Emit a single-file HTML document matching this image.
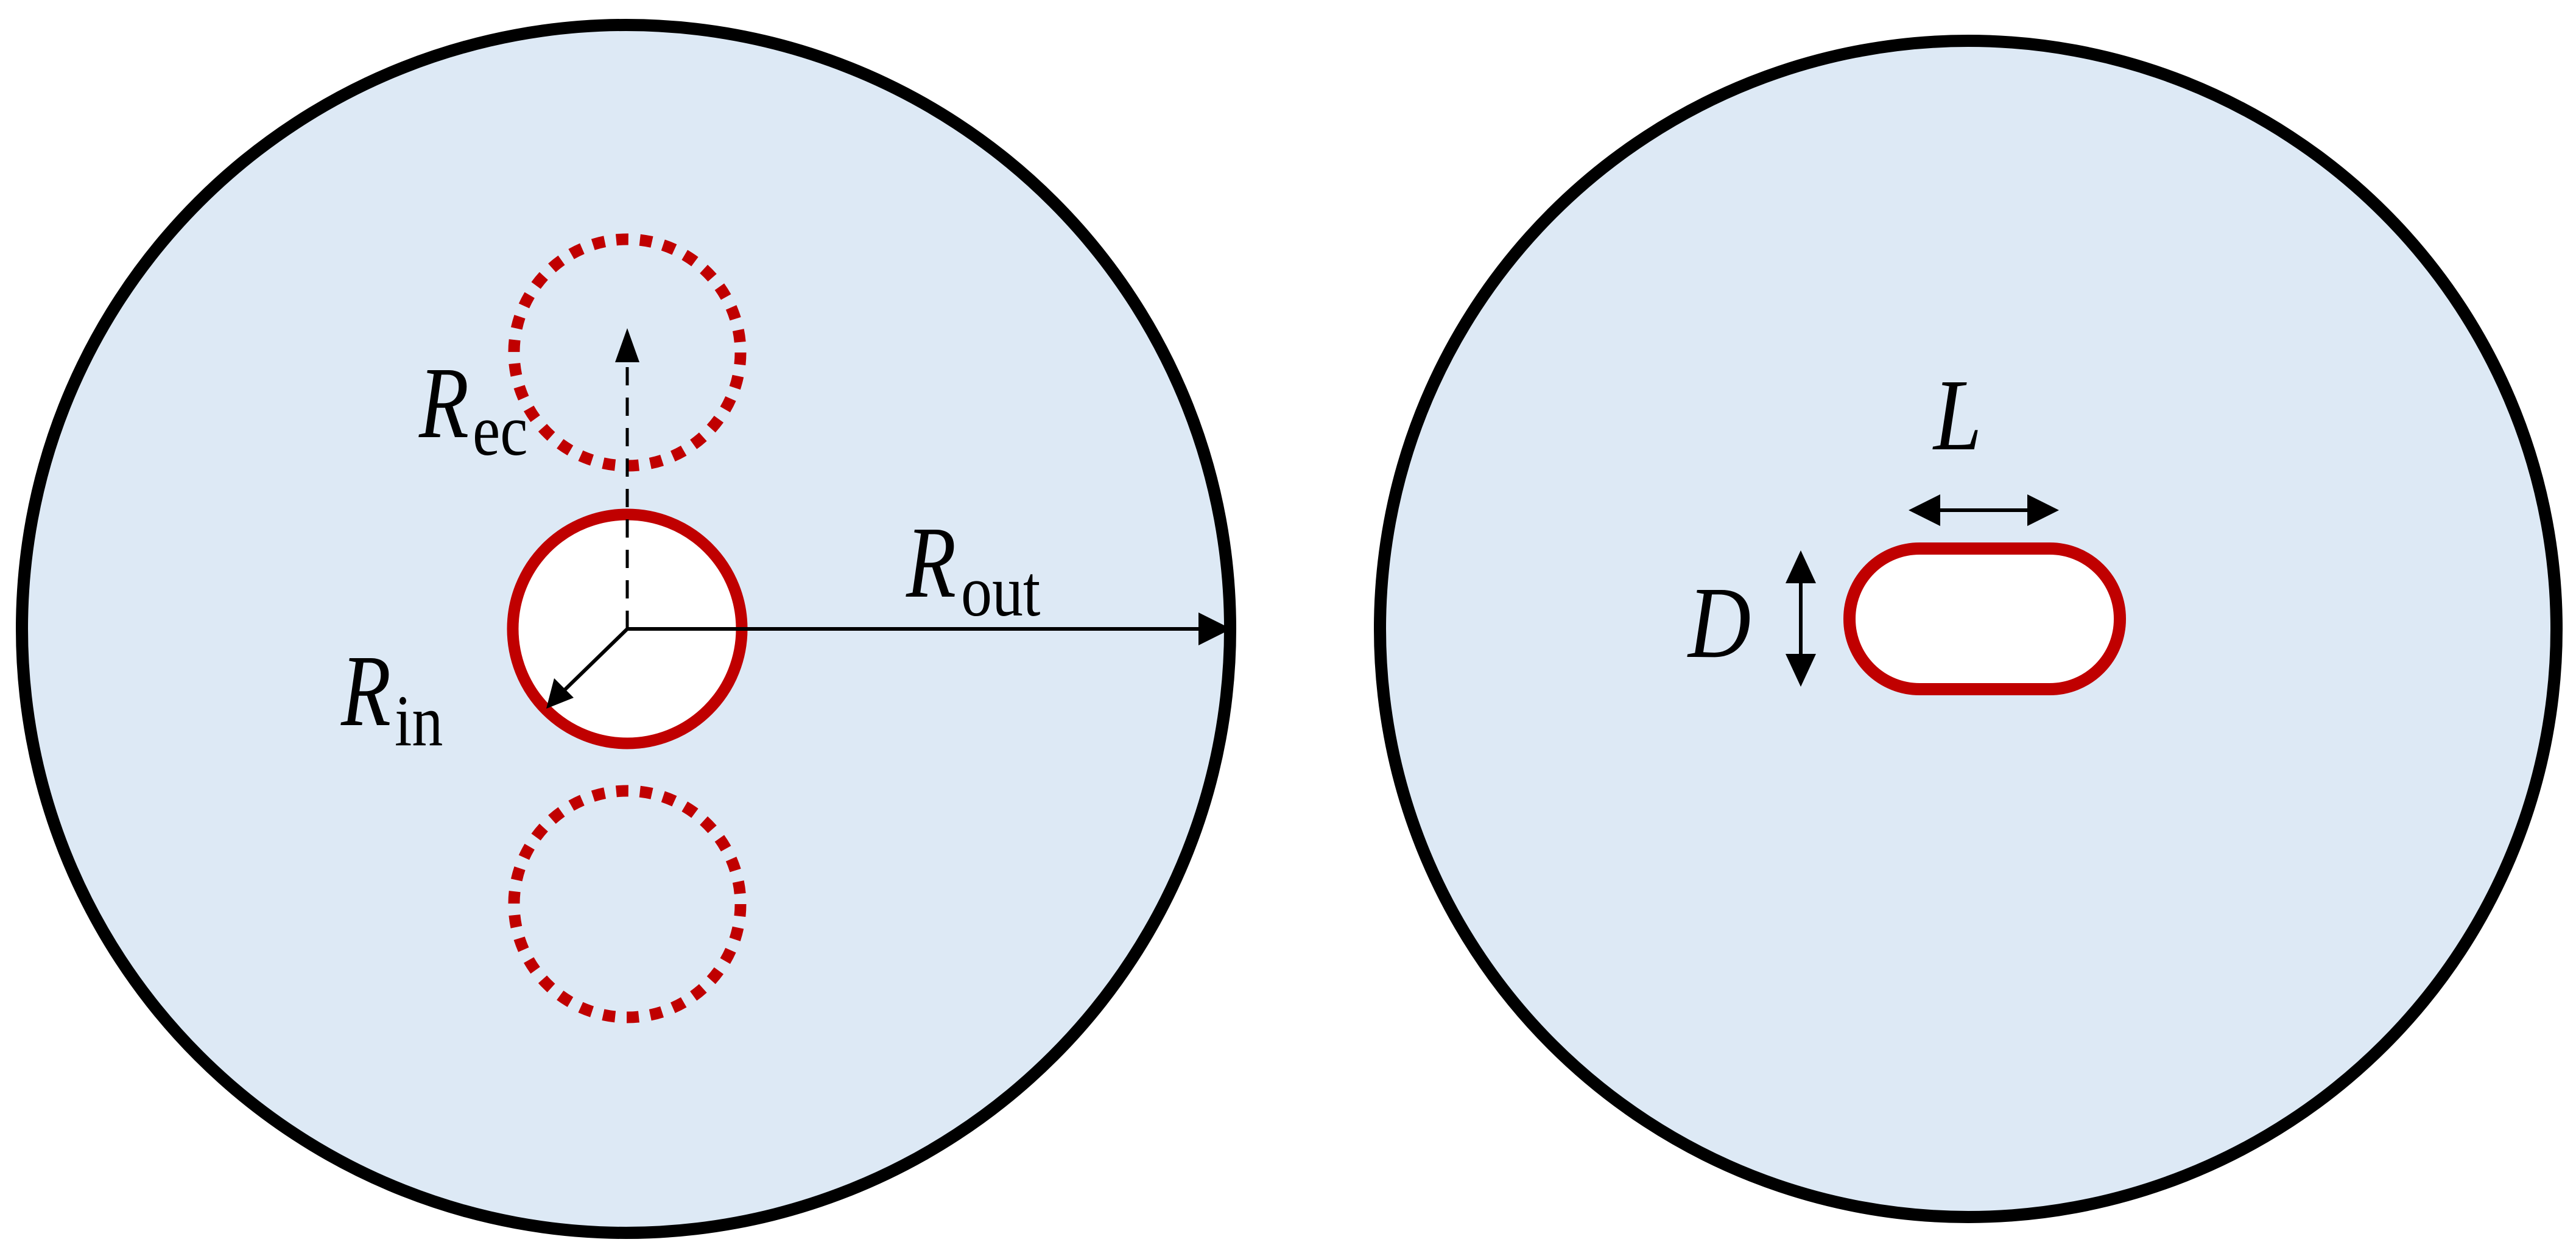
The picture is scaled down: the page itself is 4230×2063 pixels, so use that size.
<!DOCTYPE html>
<html><head><meta charset="utf-8"><style>
html,body{margin:0;padding:0;background:#fff;width:4230px;height:2063px;overflow:hidden}
</style></head><body>
<svg width="4230" height="2063" viewBox="0 0 4230 2063" xmlns="http://www.w3.org/2000/svg" font-family="'Liberation Serif', 'Times New Roman', serif">
<circle cx="1028" cy="1033" r="992" fill="#dde9f5" stroke="#000" stroke-width="20"/>
<circle cx="3232" cy="1033" r="966" fill="#dde9f5" stroke="#000" stroke-width="20"/>
<circle cx="1030" cy="579" r="186" fill="none" stroke="#c00000" stroke-width="19" stroke-dasharray="20 19"/>
<circle cx="1030" cy="1485" r="186" fill="none" stroke="#c00000" stroke-width="19" stroke-dasharray="20 19"/>
<circle cx="1030" cy="1033" r="188" fill="#fff" stroke="#c00000" stroke-width="19"/>
<line x1="1030" y1="1033" x2="1030" y2="590" stroke="#000" stroke-width="5" stroke-dasharray="30 20"/>
<polygon points="1030,539 1010,595 1050,595" fill="#000"/>
<line x1="1030" y1="1033" x2="1975" y2="1033" stroke="#000" stroke-width="6"/>
<polygon points="2022,1033 1968,1006 1968,1060" fill="#000"/>
<line x1="1030" y1="1033" x2="915" y2="1145" stroke="#000" stroke-width="6"/>
<polygon points="897,1164 910,1114 942,1146" fill="#000"/>
<g font-family="'Liberation Serif', 'Times New Roman', serif">
<text x="1488" y="980" font-size="168" font-style="italic" transform="translate(1488 980) scale(0.8 1) translate(-1488 -980)">R</text>
<text x="1578" y="1011" font-size="120" transform="translate(1578 1011) scale(0.85 1) translate(-1578 -1011)">out</text>
<text x="688" y="718" font-size="168" font-style="italic" transform="translate(688 718) scale(0.8 1) translate(-688 -718)">R</text>
<text x="776" y="747" font-size="120" transform="translate(776 747) scale(0.85 1) translate(-776 -747)">ec</text>
<text x="560" y="1191" font-size="168" font-style="italic" transform="translate(560 1191) scale(0.8 1) translate(-560 -1191)">R</text>
<text x="648" y="1224" font-size="120" transform="translate(648 1224) scale(0.85 1) translate(-648 -1224)">in</text>
<text x="3175" y="738" font-size="168" font-style="italic" transform="translate(3175 738) scale(0.85 1) translate(-3175 -738)">L</text>
<text x="2772" y="1079" font-size="168" font-style="italic" transform="translate(2772 1079) scale(0.85 1) translate(-2772 -1079)">D</text>
</g>
<rect x="3037" y="901" width="444" height="231" rx="115" ry="115" fill="#fff" stroke="#c00000" stroke-width="20"/>
<line x1="3170" y1="838" x2="3345" y2="838" stroke="#000" stroke-width="6"/>
<polygon points="3134,838 3186,812 3186,864" fill="#000"/>
<polygon points="3381,838 3329,812 3329,864" fill="#000"/>
<line x1="2957" y1="940" x2="2957" y2="1092" stroke="#000" stroke-width="6"/>
<polygon points="2957,904 2932,958 2982,958" fill="#000"/>
<polygon points="2957,1128 2932,1074 2982,1074" fill="#000"/>
</svg>
</body></html>
